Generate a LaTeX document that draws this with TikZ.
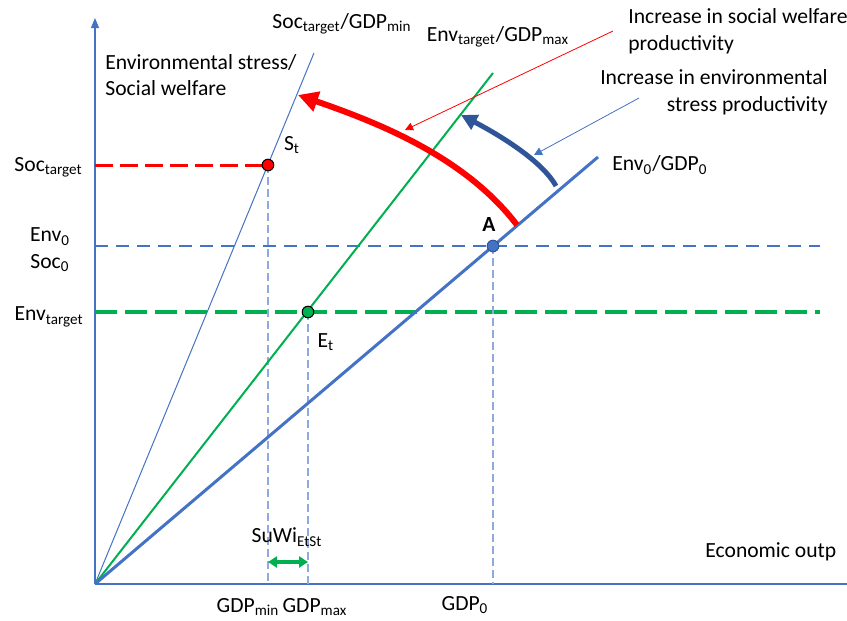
\documentclass[tikz,border=0pt]{standalone}
\usepackage{amsmath,amssymb}
\usepackage{fontspec}
\setmainfont{Carlito}
\usepackage{tikz}
\usetikzlibrary{arrows.meta}
\definecolor{axisblue}{HTML}{4472C4}
\definecolor{darkblue}{HTML}{2F5597}
\definecolor{lightblue}{HTML}{8FAADC}
\definecolor{envgreen}{HTML}{00B050}
\newcommand{\lo}[1]{\textsubscript{#1}}

\begin{document}
\begin{tikzpicture}[x=0.5pt,y=-0.5pt,font=\fontsize{10.8}{13.3}\selectfont,
  lab/.style={inner sep=1pt},
  pt/.style={circle,draw=black,line width=0.5pt,minimum size=5.8pt,inner sep=0pt},
  guide/.style={lightblue,line width=0.6pt,dash pattern=on 4pt off 2pt},
  thinarrow/.style={line width=0.4pt,-{Triangle[length=4pt,width=4pt]}}]
\useasboundingbox (0,0) rectangle (847,621);

\coordinate (O) at (95,584);
\coordinate (ytop) at (95,18);
\coordinate (xend) at (847,584);
\coordinate (soctop) at (314,53);
\coordinate (envttop) at (493,73);
\coordinate (envtop) at (598,157);
\coordinate (st) at (268,165);
\coordinate (et) at (308,312);
\coordinate (a) at (493,246);

% axes
\draw[axisblue,line width=0.6pt,-{Triangle[length=5pt,width=4pt]}] (O) -- (ytop);
\draw[axisblue,line width=0.6pt] (O) -- (xend);

% levels
\draw[red,line width=1.5pt,dash pattern=on 9pt off 3.5pt] (O |- st) -- (st);
\draw[axisblue,line width=0.9pt,dash pattern=on 6.5pt off 4pt] (O |- a) -- (820,246);
\draw[envgreen,line width=1.6pt,dash pattern=on 11pt off 4pt] (O |- et) -- (820,312);
\draw[guide] (st) -- (st |- O);
\draw[guide] (et) -- (et |- O);
\draw[guide] (a) -- (a |- O);

% rays
\draw[axisblue,line width=0.5pt] (O) -- (soctop);
\draw[envgreen,line width=1pt] (O) -- (envttop);
\draw[axisblue,line width=1.5pt] (O) -- (envtop);

% shifts
\coordinate (redstart) at (517,225);
\coordinate (redend) at (298,95);
\coordinate (bluestart) at (556,186);
\coordinate (blueend) at (461,115);
\draw[red,line width=3pt,-{Triangle[length=10pt,width=10pt]}] (redstart) .. controls (465,157) and (379,123) .. (redend);
\draw[darkblue,line width=2.5pt,-{Triangle[length=8pt,width=8pt]}] (bluestart) .. controls (540,157) and (486,128) .. (blueend);

% call-outs
\coordinate (redcall) at (613,31);
\coordinate (redtip) at (405,130);
\coordinate (bluecall) at (639,98);
\coordinate (bluetip) at (534,155);
\draw[red,thinarrow] (redcall) -- (redtip);
\draw[axisblue,thinarrow] (bluecall) -- (bluetip);

% gap
\coordinate (gmin) at (268,562);
\coordinate (gmax) at (308,562);
\draw[envgreen,line width=1.6pt,{Triangle[length=4.5pt,width=5.5pt]}-{Triangle[length=4.5pt,width=5.5pt]}] (gmin) -- (gmax);

% points
\node[pt,fill=red] (St) at (st) {};
\node[pt,fill=envgreen] (Et) at (et) {};
\node[pt,fill=axisblue,draw=darkblue] (A) at (a) {};

% labels
\node[lab] (soclinelab) at (342,24) {Soc\lo{target}/GDP\lo{min}};
\node[lab] (envtlinelab) at (498,37) {Env\lo{target}/GDP\lo{max}};
\node[lab,anchor=west,align=left] (socinc) at (626,31) {Increase in social welfare\\productivity};
\node[lab,anchor=east,align=right] (envinc) at (830,92) {Increase in environmental\\stress productivity};
\node[lab,anchor=west] (envlinelab) at (610,165) {Env\lo{0}/GDP\lo{0}};
\node[lab,anchor=west,align=left] (ylab) at (103,75) {Environmental stress/\\Social welfare};
\node[lab] (stlab) at (292,145) {S\lo{t}};
\node[lab,anchor=east] (soctlab) at (85,167) {Soc\lo{target}};
\node[lab,align=center] (env0lab) at (50,250) {Env\lo{0}\\Soc\lo{0}};
\node[lab,anchor=east] (envtlab) at (86,317) {Env\lo{target}};
\node[lab] (etlab) at (326,342) {E\lo{t}};
\node[lab,font=\fontsize{10.8}{13.3}\selectfont\bfseries] (alab) at (489,224) {A};
\node[lab] (suwilab) at (287,537) {SuWi\lo{EtSt}};
\node[lab] (gdpminlab) at (248,607) {GDP\lo{min}};
\node[lab] (gdpmaxlab) at (315,607) {GDP\lo{max}};
\node[lab] (gdp0lab) at (465,605) {GDP\lo{0}};
\node[lab,anchor=west] (xlab) at (703,552) {Economic outp};
\end{tikzpicture}
\end{document}
